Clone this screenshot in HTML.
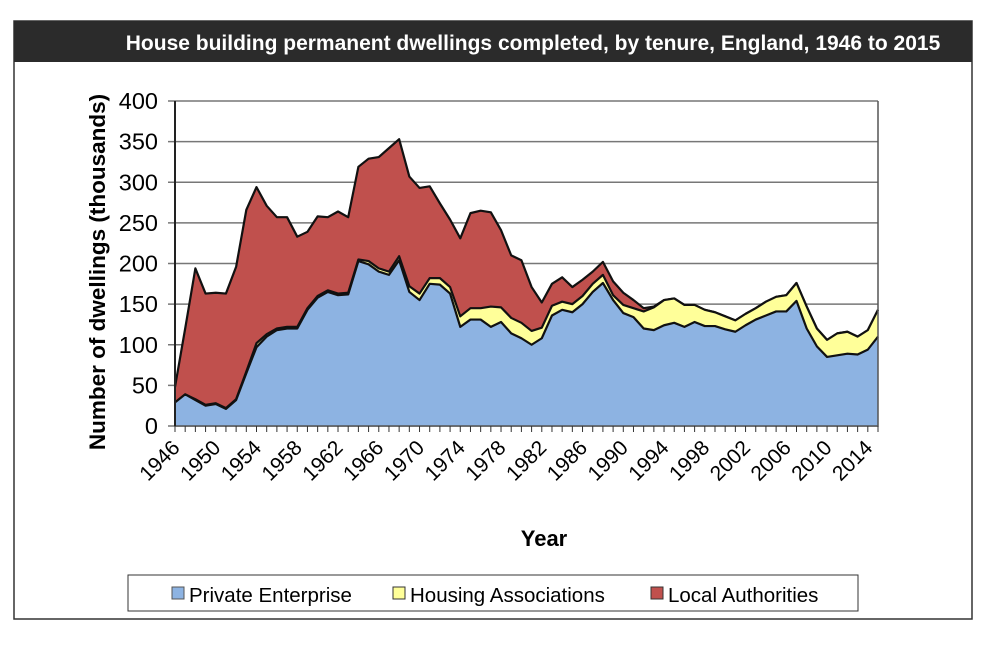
<!DOCTYPE html>
<html><head><meta charset="utf-8"><style>
body{margin:0;background:#fff;width:1000px;height:640px;overflow:hidden;font-family:"Liberation Sans",Arial,sans-serif}
</style></head><body>
<svg id="c" width="1000" height="640" xmlns="http://www.w3.org/2000/svg">
<rect x="14" y="21" width="958" height="598" fill="#fff" stroke="#333" stroke-width="1.5"/>
<rect x="14" y="21" width="958" height="41" fill="#2b2b2b"/>
<text x="533" y="50" text-anchor="middle" fill="#fff" font-size="21" font-weight="bold">House building permanent dwellings completed, by tenure, England, 1946 to 2015</text>
<g id="grid"></g><g id="areas"></g><g id="axes"></g>
<text transform="translate(105,272) rotate(-90)" text-anchor="middle" font-size="22.5" font-weight="bold">Number of dwellings (thousands)</text>
<text x="544" y="546" text-anchor="middle" font-size="22" font-weight="bold">Year</text>
<g>
<rect x="128" y="575" width="730" height="36" fill="#fff" stroke="#333" stroke-width="1"/>
<g><rect x="172" y="587" width="12" height="12" fill="#8db3e2" stroke="#555"/><text x="189" y="602" font-size="20.5">Private Enterprise</text></g>
<g><rect x="393" y="587" width="12" height="12" fill="#ffff99" stroke="#333"/><text x="410" y="602" font-size="20.5">Housing Associations</text></g>
<g><rect x="651" y="587" width="12" height="12" fill="#c0504d" stroke="#333"/><text x="668" y="602" font-size="20.5">Local Authorities</text></g>
</g>
</svg>
<script>
const years=[];for(let y=1946;y<=2015;y++)years.push(y);
const privateEnt=[29,39,32,25,27,21,32,65,97,110,118,120,120,143,158,165,161,162,203,199,190,186,204,165,155,175,174,163,122,131,131,122,128,114,108,100,108,136,143,140,150,165,176,155,139,134,120,118,124,127,122,128,123,123,119,116,124,131,136,141,141,154,120,98,85,87,89,88,94,110];
const housingAssoc=[0,0,1,1,1,1,1,2,5,3,2,2,2,2,2,2,2,2,2,4,4,4,5,7,8,7,8,8,13,14,14,25,18,19,19,17,13,12,10,10,10,10,10,6,10,11,21,28,31,30,27,21,20,17,16,14,14,14,17,18,20,22,27,22,21,27,27,22,24,33];
const localAuth=[19,81,161,137,136,141,163,199,192,158,137,135,111,94,98,90,101,93,114,126,137,152,144,135,130,113,92,83,96,117,120,116,95,77,77,54,31,27,30,21,20,15,16,17,15,10,4,1,0,0,0,0,0,0,0,0,0,0,0,0,0,0,0,0,0,0,0,0,0,0];
const yTicks=[0,50,100,150,200,250,300,350,400];
const xLabelYears=[1946,1950,1954,1958,1962,1966,1970,1974,1978,1982,1986,1990,1994,1998,2002,2006,2010,2014];
const NS='http://www.w3.org/2000/svg';
const X0=175,X1=878,Y0=426,Y1=101;
const xs=yr=>X0+(yr-years[0])*(X1-X0)/(years[years.length-1]-years[0]);
const ys=v=>Y0-v*(Y0-Y1)/400;
function mk(tag,attrs,parent){const e=document.createElementNS(NS,tag);for(const k in attrs)e.setAttribute(k,attrs[k]);parent.appendChild(e);return e;}
const grid=document.getElementById('grid'),areas=document.getElementById('areas'),axes=document.getElementById('axes');
yTicks.forEach(t=>{
  const l=mk('line',{x1:X0-7,x2:X1,y1:ys(t),y2:ys(t),stroke:'#777','stroke-width':1.5},grid);
  
  
  const tx=mk('text',{x:158,y:ys(t)+8,'text-anchor':'end','font-size':23.5},axes);
  tx.textContent=t;
  
  
});
const c1=privateEnt,c2=privateEnt.map((v,i)=>v+housingAssoc[i]),c3=c2.map((v,i)=>v+localAuth[i]);
function area(top,bot,fill,name){
  let d='M'+years.map((y,i)=>xs(y)+','+ys(top[i])).join('L');
  for(let i=years.length-1;i>=0;i--)d+='L'+xs(years[i])+','+ys(bot?bot[i]:0);
  d+='Z';
  const p=mk('path',{d:d,fill:fill,stroke:'none'},areas);
  
  
  const l=mk('polyline',{points:years.map((y,i)=>xs(y)+','+ys(top[i])).join(' '),fill:'none',stroke:'#111','stroke-width':2.2,'stroke-linejoin':'round'},areas);
  
  
}
area(c3,c2,'#c0504d','local-authorities-area');
area(c2,c1,'#ffff99','housing-associations-area');
area(c1,null,'#8db3e2','private-enterprise-area');
const ax=mk('path',{d:`M${X0},${Y1}V${Y0}H${X1}V${Y1}`,fill:'none',stroke:'#555','stroke-width':1.5},axes);


const ya=mk('line',{x1:X0,x2:X0,y1:Y1,y2:Y0,stroke:'#222','stroke-width':2},axes);


years.forEach(y=>{
  const t=mk('line',{x1:xs(y),x2:xs(y),y1:Y0,y2:Y0+6,stroke:'#333','stroke-width':1},axes);
  
  
});
xLabelYears.forEach(y=>{
  const x=xs(y)+6,yy=449;
  const t=mk('text',{x:x,y:yy,'text-anchor':'end','font-size':21,transform:`rotate(-45 ${x} ${yy})`},axes);
  t.textContent=y;
  
  
});
</script>
</body></html>
